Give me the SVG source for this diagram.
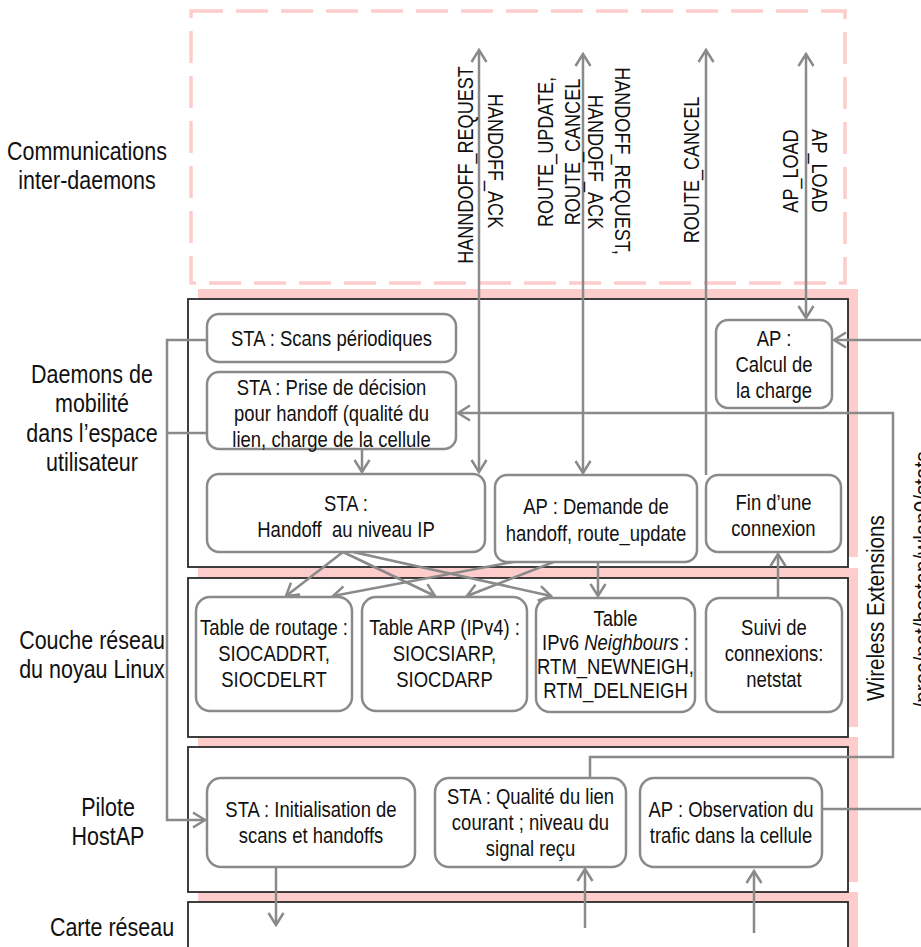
<svg xmlns="http://www.w3.org/2000/svg" width="921" height="947" viewBox="0 0 921 947">
<style>
.t{font-family:'Liberation Sans',Arial,sans-serif;font-size:21.5px;fill:#111;text-anchor:middle}
.lbl{font-size:25px}
.big{font-size:24px}
.node{fill:#fff;stroke:#8a8a8a;stroke-width:2.5}
.layer{fill:#fff;stroke:#2a2a2a;stroke-width:1.8}
.shadow{fill:#ffcccc}
.conn{fill:none;stroke:#8a8a8a;stroke-width:2.5}
</style>
<defs>
<marker id="ah" viewBox="-15 -10 17 20" refX="0" refY="0" markerWidth="17" markerHeight="20" markerUnits="userSpaceOnUse" orient="auto-start-reverse">
<path d="M-12,-7.5 L0,0 L-12,7.5" fill="none" stroke="#8a8a8a" stroke-width="2.5"/>
</marker>
</defs>
<rect width="921" height="947" fill="#fff"/>

<g id="layers">
<rect x="191" y="11" width="654" height="272" fill="none" stroke="#ffcccc" stroke-width="3.5" stroke-dasharray="32 13"/>
<rect class="shadow" x="198" y="289" width="660" height="268"/>
<rect class="shadow" x="198" y="568" width="660" height="159"/>
<rect class="shadow" x="198" y="737" width="660" height="145"/>
<rect class="shadow" x="198" y="892" width="660" height="80"/>
<rect class="layer" x="188" y="299" width="660" height="268"/>
<rect class="layer" x="188" y="578" width="660" height="159"/>
<rect class="layer" x="188" y="747" width="660" height="145"/>
<rect class="layer" x="188" y="902" width="660" height="80"/>
</g>

<g id="layer-labels">
<text class="t lbl" transform="translate(87 160) scale(.86 1)">Communications</text>
<text class="t lbl" transform="translate(87 189) scale(.86 1)">inter-daemons</text>
<text class="t lbl" transform="translate(92 383) scale(.86 1)">Daemons de</text>
<text class="t lbl" transform="translate(92 412) scale(.86 1)">mobilité</text>
<text class="t lbl" transform="translate(92 442) scale(.86 1)">dans l’espace</text>
<text class="t lbl" transform="translate(92 471) scale(.86 1)">utilisateur</text>
<text class="t lbl" transform="translate(92 649) scale(.86 1)">Couche réseau</text>
<text class="t lbl" transform="translate(92 678) scale(.86 1)">du noyau Linux</text>
<text class="t lbl" transform="translate(108 816) scale(.86 1)">Pilote</text>
<text class="t lbl" transform="translate(108 845) scale(.86 1)">HostAP</text>
<text class="t lbl" transform="translate(112 936) scale(.86 1)">Carte réseau</text>
</g>

<g id="connectors">
<path class="conn" d="M479,50 V472" marker-start="url(#ah)" marker-end="url(#ah)"/>
<path class="conn" d="M583,54 V473" marker-start="url(#ah)" marker-end="url(#ah)"/>
<path class="conn" d="M706,50 V475" marker-start="url(#ah)"/>
<path class="conn" d="M806,54 V318" marker-start="url(#ah)" marker-end="url(#ah)"/>
<path class="conn" d="M207,340 H167 V820 H205" marker-end="url(#ah)"/>
<path class="conn" d="M207,433 H167"/>
<path class="conn" d="M921,340 H834" marker-end="url(#ah)"/>
<path class="conn" d="M590,778 V757 H893 V413 H458" marker-end="url(#ah)"/>
<path class="conn" d="M822,809 H921"/>
<path class="conn" d="M362,449 V472" marker-end="url(#ah)"/>
<path class="conn" d="M343,552 L286,596" marker-end="url(#ah)"/>
<path class="conn" d="M343,552 L435,596" marker-end="url(#ah)"/>
<path class="conn" d="M353,552 L551,596" marker-end="url(#ah)"/>
<path class="conn" d="M592,547 L333,596" marker-end="url(#ah)"/>
<path class="conn" d="M592,547 L467,596" marker-end="url(#ah)"/>
<path class="conn" d="M598,548 V596" marker-end="url(#ah)"/>
<path class="conn" d="M778,598 V554" marker-end="url(#ah)"/>
<path class="conn" d="M276,867 V925" marker-end="url(#ah)"/>
<path class="conn" d="M585,928 V869" marker-end="url(#ah)"/>
<path class="conn" d="M754,933 V871" marker-end="url(#ah)"/>
</g>

<g id="connector-labels">
<text class="t" transform="translate(473,165) rotate(-90) scale(.84 1)">HANNDOFF_REQUEST</text>
<text class="t" transform="translate(488,161) rotate(90) scale(.84 1)">HANDOFF_ACK</text>
<text class="t" transform="translate(553,152) rotate(-90) scale(.84 1)">ROUTE_UPDATE,</text>
<text class="t" transform="translate(580,152) rotate(-90) scale(.84 1)">ROUTE_CANCEL</text>
<text class="t" transform="translate(588,162) rotate(90) scale(.84 1)">HANDOFF_ACK</text>
<text class="t" transform="translate(615,161) rotate(90) scale(.84 1)">HANDOFF_REQUEST,</text>
<text class="t" transform="translate(699,170) rotate(-90) scale(.84 1)">ROUTE_CANCEL</text>
<text class="t" transform="translate(798,171) rotate(-90) scale(.84 1)">AP_LOAD</text>
<text class="t" transform="translate(812,171) rotate(90) scale(.84 1)">AP_LOAD</text>
<text class="t big" transform="translate(884,608) rotate(-90) scale(.86 1)">Wireless Extensions</text>
<text class="t big" transform="translate(931,580) rotate(-90) scale(.86 1)">/proc/net/hostap/wlan0/stats</text>
</g>

<g id="sta-scans">
<rect class="node" x="207" y="314" width="249" height="48" rx="12"/>
<text class="t" transform="translate(331.5 346) scale(.86 1)">STA : Scans périodiques</text>
</g>
<g id="sta-decision">
<rect class="node" x="207" y="372" width="249" height="77" rx="12"/>
<text class="t" transform="translate(331.5 395) scale(.86 1)">STA : Prise de décision</text>
<text class="t" transform="translate(331.5 421) scale(.86 1)">pour handoff (qualité du</text>
<text class="t" transform="translate(331.5 447) scale(.86 1)">lien, charge de la cellule</text>
</g>
<g id="sta-handoff-ip">
<rect class="node" x="207" y="474" width="278" height="78" rx="12"/>
<text class="t" transform="translate(346 511) scale(.86 1)">STA :</text>
<text class="t" transform="translate(346 537) scale(.86 1)" xml:space="preserve">Handoff  au niveau IP</text>
</g>
<g id="ap-demande">
<rect class="node" x="495" y="475" width="202" height="87" rx="12"/>
<text class="t" transform="translate(596 514) scale(.86 1)">AP : Demande de</text>
<text class="t" transform="translate(596 541) scale(.86 1)">handoff, route_update</text>
</g>
<g id="fin-connexion">
<rect class="node" x="706" y="475" width="135" height="77" rx="12"/>
<text class="t" transform="translate(773.5 510) scale(.86 1)">Fin d’une</text>
<text class="t" transform="translate(773.5 536) scale(.86 1)">connexion</text>
</g>
<g id="ap-calcul">
<rect class="node" x="716" y="320" width="116" height="88" rx="12"/>
<text class="t" transform="translate(774 346) scale(.86 1)">AP :</text>
<text class="t" transform="translate(774 372) scale(.86 1)">Calcul de</text>
<text class="t" transform="translate(774 398) scale(.86 1)">la charge</text>
</g>
<g id="table-routage">
<rect class="node" x="196" y="597" width="156" height="114" rx="14"/>
<text class="t" transform="translate(274 635) scale(.86 1)">Table de routage :</text>
<text class="t" transform="translate(274 661) scale(.86 1)">SIOCADDRT,</text>
<text class="t" transform="translate(274 687) scale(.86 1)">SIOCDELRT</text>
</g>
<g id="table-arp">
<rect class="node" x="362" y="597" width="165" height="114" rx="14"/>
<text class="t" transform="translate(444.5 635) scale(.86 1)">Table ARP (IPv4) :</text>
<text class="t" transform="translate(444.5 661) scale(.86 1)">SIOCSIARP,</text>
<text class="t" transform="translate(444.5 687) scale(.86 1)">SIOCDARP</text>
</g>
<g id="table-ipv6">
<rect class="node" x="536" y="598" width="159" height="114" rx="14"/>
<text class="t" transform="translate(615.5 626) scale(.86 1)">Table</text>
<text class="t" transform="translate(615.5 650) scale(.86 1)">IPv6 <tspan font-style="italic">Neighbours</tspan> :</text>
<text class="t" transform="translate(615.5 674) scale(.86 1)">RTM_NEWNEIGH,</text>
<text class="t" transform="translate(615.5 698) scale(.86 1)">RTM_DELNEIGH</text>
</g>
<g id="suivi-connexions">
<rect class="node" x="706" y="598" width="136" height="114" rx="14"/>
<text class="t" transform="translate(774 635) scale(.86 1)">Suivi de</text>
<text class="t" transform="translate(774 661) scale(.86 1)">connexions:</text>
<text class="t" transform="translate(774 687) scale(.86 1)">netstat</text>
</g>
<g id="sta-init">
<rect class="node" x="207" y="778" width="208" height="89" rx="14"/>
<text class="t" transform="translate(311 817) scale(.86 1)">STA : Initialisation de</text>
<text class="t" transform="translate(311 843) scale(.86 1)">scans et handoffs</text>
</g>
<g id="sta-qualite">
<rect class="node" x="435" y="778" width="191" height="89" rx="14"/>
<text class="t" transform="translate(530.5 804) scale(.86 1)">STA : Qualité du lien</text>
<text class="t" transform="translate(530.5 830) scale(.86 1)">courant ; niveau du</text>
<text class="t" transform="translate(530.5 856) scale(.86 1)">signal reçu</text>
</g>
<g id="ap-observation">
<rect class="node" x="640" y="778" width="182" height="89" rx="14"/>
<text class="t" transform="translate(731 817) scale(.86 1)">AP : Observation du</text>
<text class="t" transform="translate(731 843) scale(.86 1)">trafic dans la cellule</text>
</g>
</svg>
